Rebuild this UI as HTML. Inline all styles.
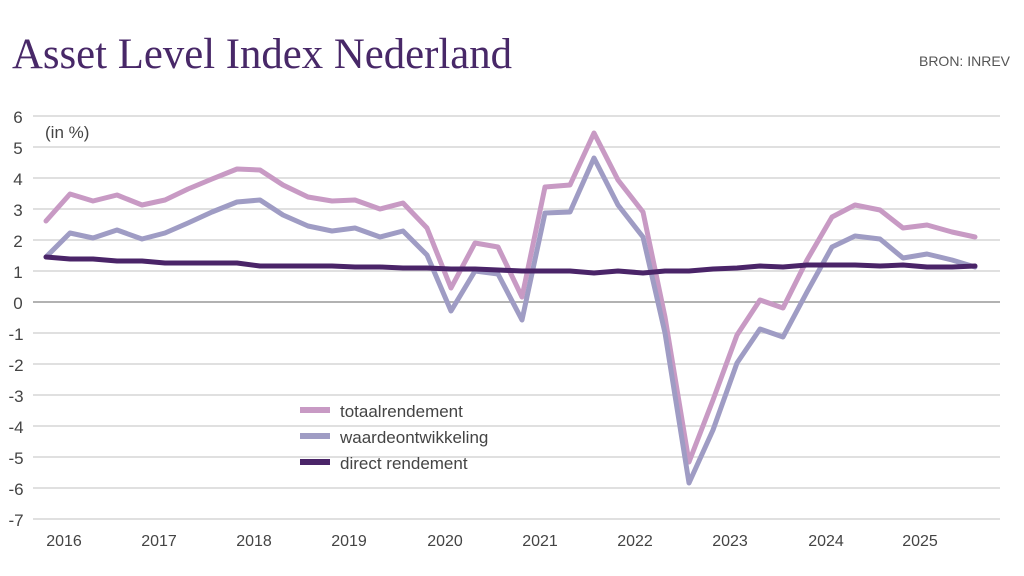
<!DOCTYPE html>
<html><head><meta charset="utf-8"><style>
html,body{margin:0;padding:0;background:#fff;}
svg{display:block;}
</style></head><body>
<svg width="1024" height="576" viewBox="0 0 1024 576" xmlns="http://www.w3.org/2000/svg">
<text x="12" y="68" font-family="Liberation Serif, serif" font-size="43" fill="#482868" textLength="500" lengthAdjust="spacingAndGlyphs">Asset Level Index Nederland</text>
<text x="1010" y="66" text-anchor="end" font-family="Liberation Sans, sans-serif" font-size="14" fill="#555">BRON: INREV</text>
<g stroke="#d6d6d6" stroke-width="1.5">
<line x1="33" x2="1000" y1="116" y2="116"/><line x1="33" x2="1000" y1="147" y2="147"/>
<line x1="33" x2="1000" y1="178" y2="178"/><line x1="33" x2="1000" y1="209" y2="209"/>
<line x1="33" x2="1000" y1="240" y2="240"/><line x1="33" x2="1000" y1="271" y2="271"/>
<line x1="33" x2="1000" y1="333" y2="333"/><line x1="33" x2="1000" y1="364" y2="364"/>
<line x1="33" x2="1000" y1="395" y2="395"/><line x1="33" x2="1000" y1="426" y2="426"/>
<line x1="33" x2="1000" y1="457" y2="457"/><line x1="33" x2="1000" y1="488" y2="488"/>
<line x1="33" x2="1000" y1="519" y2="519"/>
</g>
<line x1="33" x2="1000" y1="302" y2="302" stroke="#999" stroke-width="1.5"/>
<g font-family="Liberation Sans, sans-serif" font-size="17" fill="#444" text-anchor="middle">
<text x="18" y="123">6</text><text x="18" y="154">5</text><text x="18" y="185">4</text>
<text x="18" y="216">3</text><text x="18" y="247">2</text><text x="18" y="278">1</text>
<text x="18" y="309">0</text><text x="16" y="340">-1</text><text x="16" y="371">-2</text>
<text x="16" y="402">-3</text><text x="16" y="433">-4</text><text x="16" y="464">-5</text>
<text x="16" y="495">-6</text><text x="16" y="526">-7</text>
</g>
<g font-family="Liberation Sans, sans-serif" font-size="16" fill="#444" text-anchor="middle">
<text x="64" y="546">2016</text><text x="159" y="546">2017</text><text x="254" y="546">2018</text>
<text x="349" y="546">2019</text><text x="445" y="546">2020</text><text x="540" y="546">2021</text>
<text x="635" y="546">2022</text><text x="730" y="546">2023</text><text x="826" y="546">2024</text>
<text x="920" y="546">2025</text>
</g>
<text x="45" y="138" font-family="Liberation Sans, sans-serif" font-size="17" fill="#444">(in %)</text>
<g fill="none" stroke-width="5" stroke-linejoin="round" stroke-linecap="round">
<polyline stroke="#c89ac4" points="46,221 70,194 93,201 117,195 142,205 165,200 188,189 212,179 237,169 260,170 283,185 308,197 332,201 355,200 380,209 403,203 427,228 451,288 475,243 498,247 522,297 545,187 570,185 594,133 618,180 643,212 665,317 689,462 713,400 737,335 760,300 783,308 807,260 832,217 855,205 880,210 903,228 927,225 952,232 975,237"/>
<polyline stroke="#9f9cc4" points="46,257 70,233 93,238 117,230 142,239 165,233 188,223 212,212 237,202 260,200 283,215 308,226 332,231 355,228 380,237 403,231 427,255 451,311 475,271 498,274 522,320 545,213 570,212 594,158 618,205 643,237 665,333 689,483 713,430 737,363 760,329 783,337 807,292 832,247 855,236 880,239 903,258 927,254 952,260 975,267"/>
<polyline stroke="#4a2468" points="46,257 70,259 93,259 117,261 142,261 165,263 188,263 212,263 237,263 260,266 283,266 308,266 332,266 355,267 380,267 403,268 427,268 451,269 475,269 498,270 522,271 545,271 570,271 594,273 618,271 643,273 665,271 689,271 713,269 737,268 760,266 783,267 807,265 832,265 855,265 880,266 903,265 927,267 952,267 975,266"/>
</g>
<g stroke-width="6">
<line x1="300" x2="330" y1="410" y2="410" stroke="#c89ac4"/>
<line x1="300" x2="330" y1="436" y2="436" stroke="#9f9cc4"/>
<line x1="300" x2="330" y1="462" y2="462" stroke="#4a2468"/>
</g>
<g font-family="Liberation Sans, sans-serif" font-size="17" fill="#444">
<text x="340" y="417">totaalrendement</text>
<text x="340" y="443">waardeontwikkeling</text>
<text x="340" y="469">direct rendement</text>
</g>
</svg>
</body></html>
